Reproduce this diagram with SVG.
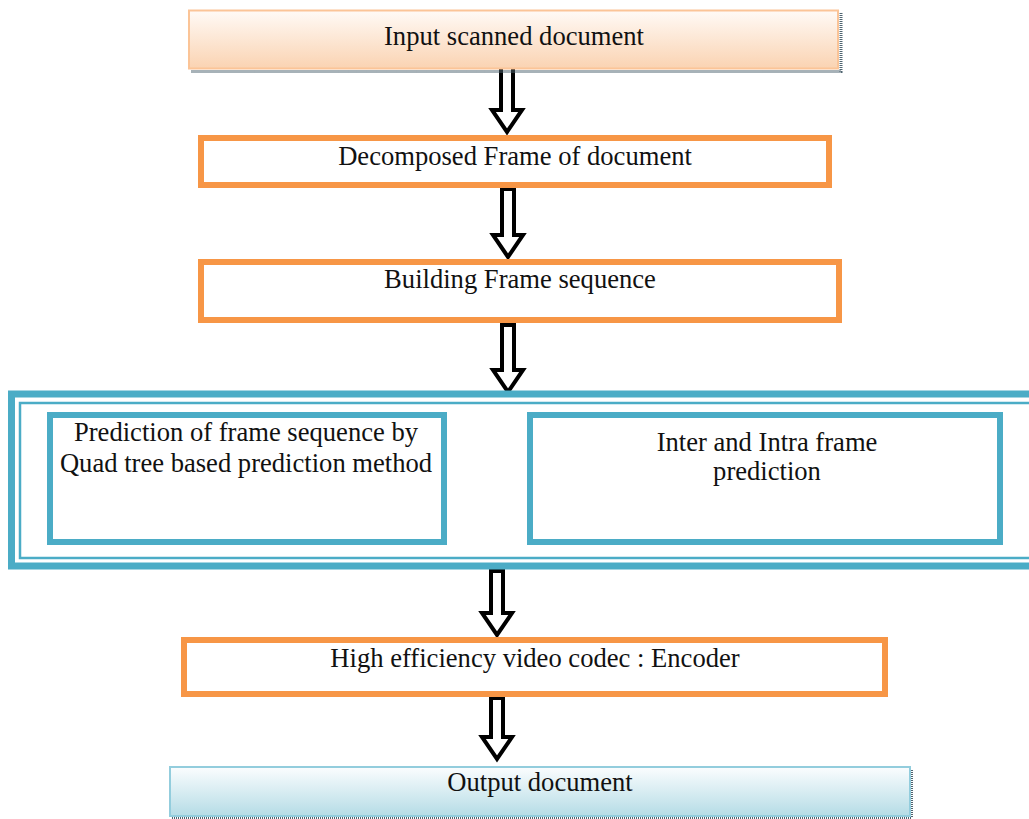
<svg xmlns="http://www.w3.org/2000/svg" width="1029" height="819" viewBox="0 0 1029 819">
<style>
  text { font-family: "Liberation Serif", "Times New Roman", serif; font-size: 26.6px; fill: #111; text-anchor: middle; }
  .orange { fill: #ffffff; stroke: #f79646; stroke-width: 6; }
  .teal { fill: #ffffff; stroke: #4bacc6; stroke-width: 6; }
  .arrow { fill: #ffffff; stroke: #000000; stroke-width: 4; stroke-linejoin: miter; }
  .shadow { stroke: #4f6470; stroke-width: 3; stroke-dasharray: 1 1; fill: none; }
</style>
<defs>
  <linearGradient id="peach" x1="0" y1="0" x2="0" y2="1">
    <stop offset="0" stop-color="#fffaf6"/>
    <stop offset="1" stop-color="#fad3b2"/>
  </linearGradient>
  <linearGradient id="blue" x1="0" y1="0" x2="0" y2="1">
    <stop offset="0" stop-color="#fbfdfe"/>
    <stop offset="1" stop-color="#b5dce6"/>
  </linearGradient>
</defs>
<rect width="1029" height="819" fill="#ffffff"/>

<g id="connectors">
  <path class="arrow" d="M501,67 L513,67 L513,110 L522,110 L507,132 L492,110 L501,110 Z"/>
  <path class="arrow" d="M502,189 L514,189 L514,235 L523,235 L508,257 L493,235 L502,235 Z"/>
  <path class="arrow" d="M502,325 L514,325 L514,370 L523,370 L508,392 L493,370 L502,370 Z"/>
  <path class="arrow" d="M491,571 L503,571 L503,613 L512,613 L497,635 L482,613 L491,613 Z"/>
  <path class="arrow" d="M491,698 L503,698 L503,737 L512,737 L497,759 L482,737 L491,737 Z"/>
</g>

<g id="node-input">
  <path class="shadow" d="M841,13 L841,71.5 L191,71.5"/>
  <rect x="189" y="10.5" width="649" height="58" fill="url(#peach)" stroke="#fbc497" stroke-width="2"/>
  <text x="514" y="45">Input scanned document</text>
</g>

<g id="node-decomposed">
  <rect class="orange" x="201" y="138" width="628" height="47"/>
  <text x="515" y="165">Decomposed Frame of document</text>
</g>

<g id="node-building">
  <rect class="orange" x="201" y="262" width="638" height="58"/>
  <text x="520" y="288">Building Frame sequence</text>
</g>

<g id="node-prediction-group">
  <rect x="11.5" y="394" width="1030" height="172" fill="#ffffff" stroke="#4bacc6" stroke-width="7"/>
  <rect x="20" y="403" width="1020" height="155" fill="none" stroke="#4bacc6" stroke-width="2.5"/>
</g>

<g id="node-quadtree">
  <rect class="teal" x="50" y="415" width="394" height="127"/>
  <text x="246" y="441">Prediction of frame sequence by</text>
  <text x="246" y="472">Quad tree based prediction method</text>
</g>

<g id="node-interintra">
  <rect class="teal" x="530" y="415" width="470" height="127"/>
  <text x="767" y="451">Inter and Intra frame</text>
  <text x="767" y="480">prediction</text>
</g>

<g id="node-hevc">
  <rect class="orange" x="184" y="640" width="701" height="54"/>
  <text x="535" y="667">High efficiency video codec : Encoder</text>
</g>

<g id="node-output">
  <path class="shadow" d="M911.5,770 L911.5,817.5 L172,817.5"/>
  <rect x="170" y="767" width="740" height="49" fill="url(#blue)" stroke="#93cddd" stroke-width="2"/>
  <text x="540" y="791">Output document</text>
</g>
</svg>
